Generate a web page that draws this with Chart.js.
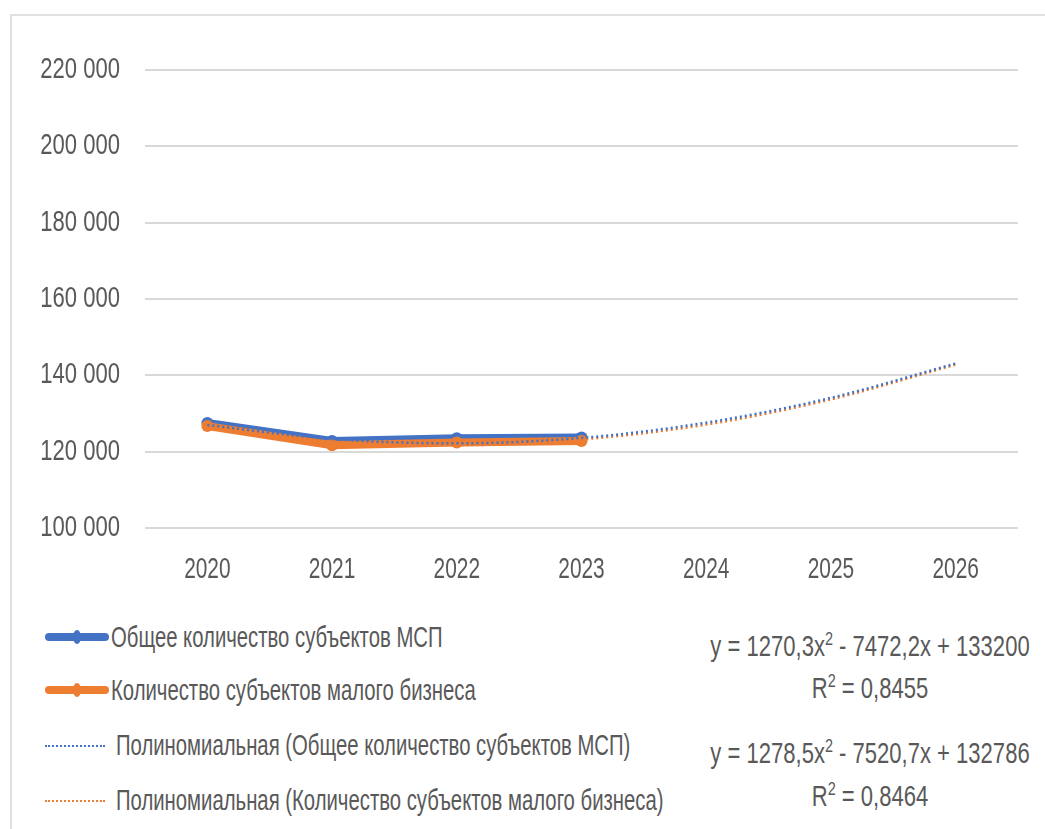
<!DOCTYPE html>
<html>
<head>
<meta charset="utf-8">
<script src="https://cdn.jsdelivr.net/npm/chart.js@4"></script>
<style>
  body { margin: 0; background: #fff; font-family: "Liberation Sans", Arial, sans-serif; color: #595959; }
  #frame { position: absolute; left: 10px; top: 14px; width: 1040px; height: 820px; border: 2px solid #e0e0e0; box-sizing: border-box; }
  #wrap { position: absolute; left: 0; top: 0; width: 1035px; height: 590px; }
  .row { position: absolute; left: 33px; height: 30px; }
  .sw { position: absolute; left: 0; width: 64px; }
  .solid { top: 11px; height: 8px; border-radius: 4px; }
  .solid i { position: absolute; left: 28px; top: -3px; width: 8px; height: 14px; border-radius: 50%; }
  .dot { top: 15px; height: 0; border-top: 2px dotted; width: 60px; }
  .txt { position: absolute; left: 66px; top: 0; font-size: 29px; line-height: 30px; white-space: nowrap; transform: scaleX(0.7); transform-origin: 0 50%; }
  .txt.d { left: 71px; }
  .eq { position: absolute; left: 608px; width: 500px; text-align: center; font-size: 29px; line-height: 30px; white-space: nowrap; transform: scaleX(0.76); transform-origin: 50% 50%; }
  sup { font-size: 19px; vertical-align: 11px; line-height: 0; }
</style>
</head>
<body>
<div id="frame">
  <div id="wrap"><canvas id="myChart"></canvas></div>
  <div class="row" style="top:606px"><span class="sw solid" style="background:#4472C4"><i style="background:#4472C4"></i></span><span class="txt">Общее количество субъектов МСП</span></div>
  <div class="row" style="top:659px"><span class="sw solid" style="background:#ED7D31"><i style="background:#ED7D31"></i></span><span class="txt">Количество субъектов малого бизнеса</span></div>
  <div class="row" style="top:714px"><span class="sw dot" style="border-color:#4472C4"></span><span class="txt d">Полиномиальная (Общее количество субъектов МСП)</span></div>
  <div class="row" style="top:769px"><span class="sw dot" style="border-color:#ED7D31"></span><span class="txt d">Полиномиальная (Количество субъектов малого бизнеса)</span></div>
  <div class="eq" style="top:615px">y = 1270,3x<sup>2</sup> - 7472,2x + 133200</div>
  <div class="eq" style="top:657px">R<sup>2</sup> = 0,8455</div>
  <div class="eq" style="top:722px">y = 1278,5x<sup>2</sup> - 7520,7x + 132786</div>
  <div class="eq" style="top:765px">R<sup>2</sup> = 0,8464</div>
</div>
<script>
const years = ['2020', '2021', '2022', '2023', '2024', '2025', '2026'];

const totalMsp = [127500, 122800, 123500, 123700, null, null, null];
const smallBiz = [126700, 121700, 122400, 122800, null, null, null];

// trend values (they match the printed equations)
const trendMsp = [127000, 123300, 122200, 123600, 127600, 134100, 143100];
const trendSmall = [126500, 122900, 121700, 123200, 127100, 133700, 142800];

const yTicks = [100000, 120000, 140000, 160000, 180000, 200000, 220000];

const tickFont = '29px "Liberation Sans", Arial, sans-serif';

// the original uses a narrow font, so the tick labels are drawn squeezed
const narrowTicks = {
    id: 'narrowTicks',
    afterDraw(chart) {
        const c = chart.ctx;
        const xs = chart.scales.x, ys = chart.scales.y;
        c.save();
        c.font = tickFont;
        c.fillStyle = '#595959';
        c.textBaseline = 'middle';
        ys.ticks.forEach(t => {
            const y = ys.getPixelForValue(t.value);
            c.save();
            c.translate(chart.chartArea.left - 25, y);
            c.scale(0.76, 1);
            c.textAlign = 'right';
            c.fillText(String(t.value).replace(/\B(?=(\d{3})+(?!\d))/g, ' '), 0, 0);
            c.restore();
        });
        years.forEach((lab, i) => {
            const x = xs.getPixelForValue(i);
            c.save();
            c.translate(x, chart.chartArea.bottom + 42);
            c.scale(0.72, 1);
            c.textAlign = 'center';
            c.fillText(lab, 0, 0);
            c.restore();
        });
        c.restore();
    }
};

const ctx = document.getElementById('myChart').getContext('2d');
const myChart = new Chart(ctx, {
    type: 'line',
    data: {
        labels: years,
        datasets: [
            {
                label: 'Полиномиальная (Общее количество субъектов МСП)',
                data: trendMsp,
                borderColor: '#4472C4',
                borderWidth: 2.5,
                borderDash: [2, 3],
                pointRadius: 0,
                cubicInterpolationMode: 'monotone',
                order: 0
            },
            {
                label: 'Полиномиальная (Количество субъектов малого бизнеса)',
                data: trendSmall,
                borderColor: '#ED7D31',
                borderWidth: 2.5,
                borderDash: [2, 3],
                pointRadius: 0,
                cubicInterpolationMode: 'monotone',
                order: 1
            },
            {
                label: 'Количество субъектов малого бизнеса',
                data: smallBiz,
                borderColor: '#ED7D31',
                backgroundColor: '#ED7D31',
                borderWidth: 8,
                pointRadius: 6,
                pointBorderWidth: 0,
                order: 2
            },
            {
                label: 'Общее количество субъектов МСП',
                data: totalMsp,
                borderColor: '#4472C4',
                backgroundColor: '#4472C4',
                borderWidth: 8,
                pointRadius: 6,
                pointBorderWidth: 0,
                order: 3
            }
        ]
    },
    options: {
        responsive: true,
        maintainAspectRatio: false,
        animation: false,
        layout: { padding: { top: 54, right: 29, bottom: 0, left: 0 } },
        scales: {
            x: {
                offset: true,
                grid: { display: false },
                border: { display: false },
                ticks: { display: false },
                afterFit: (scale) => { scale.height = 78; }
            },
            y: {
                min: 100000,
                max: 220000,
                afterBuildTicks: (scale) => { scale.ticks = yTicks.map(v => ({ value: v })); },
                afterFit: (scale) => { scale.width = 133; },
                grid: { color: '#d9d9d9', lineWidth: 2, drawTicks: false },
                border: { display: false },
                ticks: { display: false }
            }
        },
        plugins: {
            legend: { display: false },
            tooltip: { enabled: false }
        }
    },
    plugins: [narrowTicks]
});
</script>
</body>
</html>
